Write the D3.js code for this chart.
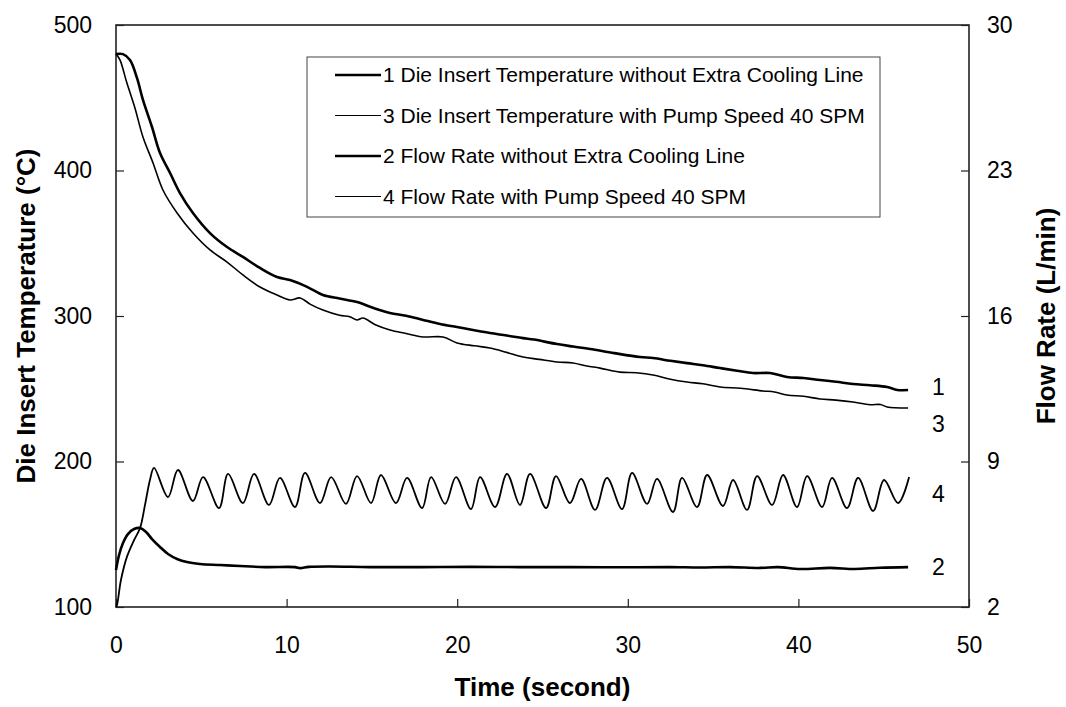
<!DOCTYPE html>
<html lang="en">
<head><meta charset="utf-8">
<title>Die Insert Temperature and Flow Rate</title>
<style>
body { margin: 0; background: #fff; font-family: "Liberation Sans", Arial, sans-serif; }
.axis text { font-size: 23px; fill: #000; }
.axis path { display: none; }
.axis line { stroke: #222; stroke-width: 1.2px; }
.title { font-size: 26px; font-weight: bold; }
.legend text { font-size: 21px; }
</style>
</head>
<body>
<svg></svg>
<script src="https://cdn.jsdelivr.net/npm/d3@7"></script>
<script>

// x axis ticks (s), left axis ticks (°C), right axis ticks (L/min)
var timeTicks = [0, 10, 20, 30, 40, 50];
var tempTicks = [100, 200, 300, 400, 500];
var flowTicks = [2, 9, 16, 23, 30];

// 1 Die Insert Temperature without Extra Cooling Line  [time, °C]
var temp1 = [[0,480],[0.41,480],[0.82,476],[1.23,463.6],[1.58,448.5],[2.11,429.9],[2.58,412],[3.17,398.3],
  [3.75,384.5],[4.51,370.8],[5.51,357],[6.51,347.4],[7.44,340.6],[8.44,333],[9.44,326.8],[10.2,324.7],
  [11.2,320],[12.13,314.4],[13.1,312],[14.13,309.6],[15.1,305.5],[16.06,302.1],[17,300.2],[18,297.3],
  [19,294.5],[19.99,292.4],[21,290.2],[21.92,288.3],[22.9,286.6],[23.86,284.8],[24.5,283.8],[25.85,280.7],
  [26.8,279],[27.79,277.3],[29.2,274.5],[30.72,271.8],[31.48,271.1],[32.5,269.2],[33.47,267.6],[34.4,266.2],
  [35.41,264.2],[36.4,262.4],[37.34,260.8],[38.34,260.8],[39.33,258.1],[40.3,257.4],[41.27,256],
  [42.2,254.8],[43.2,253.3],[44.2,252.4],[45.2,251.2],[45.8,249.2],[46.43,249.1]];

// 3 Die Insert Temperature with Pump Speed 40 SPM  [time, °C]
var temp3 = [[0,480],[0.23,476],[0.64,460.1],[1.11,443],[1.58,423],[2.17,405.2],[2.75,386.6],[3.58,370.8],
  [4.51,357],[5.51,345.4],[6.51,337.1],[7.44,328.2],[8.44,319.9],[9.44,314.4],[10.2,311],[10.79,312.4],
  [11.4,308],[12.13,304.1],[13.1,300.5],[13.7,299.5],[14.13,297.3],[14.48,298.6],[15.2,294],[16.06,290.4],
  [17,288],[18,285.6],[19.17,285.6],[19.99,281.5],[21,279.5],[21.92,278],[22.9,275],[23.86,271.8],
  [24.8,270.2],[25.85,268.4],[26.79,267.7],[27.6,265.6],[28.37,264.2],[29.54,261.4],[30.5,261],[31.48,259.5],
  [32.5,256.5],[33.47,254.6],[34.4,253.4],[35.41,251.2],[36.6,250.3],[37.93,248.5],[38.6,247.8],[39.33,245.7],
  [40.3,244.8],[41.27,243],[42.2,242.2],[43.2,240.9],[44.2,239],[44.8,239.2],[45.2,237.5],[46.43,236.8]];

// 2 Flow Rate without Extra Cooling Line  [time, L/min]
var flow2 = [[0,3.78],[0.18,4.5],[0.41,5.08],[0.7,5.51],[1.06,5.75],[1.41,5.8],[1.76,5.61],[2.11,5.27],
  [2.58,4.89],[3.05,4.55],[3.58,4.31],[4.16,4.16],[4.92,4.07],[6.1,4.02],[7.27,3.97],[8.73,3.92],
  [10.49,3.92],[10.79,3.87],[11.3,3.93],[12.55,3.95],[14.89,3.92],[17.82,3.92],[20.75,3.93],[23.68,3.92],
  [26.61,3.92],[29.54,3.91],[32.47,3.92],[34.23,3.9],[36,3.92],[37.75,3.88],[38.8,3.92],[40.1,3.83],
  [41.85,3.88],[43.32,3.83],[44.79,3.89],[46.43,3.92]];

// 4 Flow Rate with Pump Speed 40 SPM  [time, L/min]
var flow4 = [[0,2],[0.06,2.1],[0.29,3.3],[0.64,4.41],[1.06,5.22],[1.41,5.8],[1.7,6.91],[1.99,8.11],[2.23,8.69],
  [3.05,7.29],[3.63,8.59],[4.51,7.1],[5.1,8.25],[6.04,6.76],[6.57,8.4],[7.44,7],[8.09,8.4],[8.97,6.91],
  [9.61,8.21],[10.49,6.81],[11.08,8.45],[11.96,7],[12.61,8.25],[13.48,6.96],[14.13,8.3],[14.95,7],
  [15.53,8.35],[16.41,7],[17.06,8.21],[17.94,6.76],[18.47,8.25],[19.29,6.96],[19.93,8.25],[20.81,6.71],
  [21.34,8.25],[22.22,6.81],[22.92,8.4],[23.68,6.91],[24.27,8.4],[25.21,6.76],[25.79,8.3],[26.61,7],
  [27.26,8.16],[28.08,6.67],[28.78,8.21],[29.66,6.71],[30.25,8.45],[31.13,6.96],[31.71,8.16],[32.65,6.57],
  [33.18,8.21],[34.06,6.81],[34.65,8.35],[35.58,6.86],[36.17,8.11],[36.99,6.67],[37.58,8.3],[38.46,6.91],
  [39.1,8.35],[39.92,6.81],[40.51,8.3],[41.39,6.81],[41.97,8.21],[42.85,6.76],[43.5,8.21],[44.38,6.62],
  [45.02,8.11],[45.84,7],[46.49,8.25]];

var legendLabels = [
  "1 Die Insert Temperature without Extra Cooling Line",
  "3 Die Insert Temperature with Pump Speed 40 SPM",
  "2 Flow Rate without Extra Cooling Line",
  "4 Flow Rate with Pump Speed 40 SPM"
];

var width = 1066, height = 707;
var margin = {top: 25, right: 97, bottom: 100, left: 116};
var w = width - margin.left - margin.right,
    h = height - margin.top - margin.bottom;

var svg = d3.select("svg").attr("width", width).attr("height", height);
var g = svg.append("g").attr("transform", "translate(" + margin.left + "," + margin.top + ")");

var x = d3.scaleLinear().domain([0, 50]).range([0, w]);
var yT = d3.scaleLinear().domain([100, 500]).range([h, 0]);
var yF = d3.scaleLinear().domain([2, 30]).range([h, 0]);

// axes, ticks pointing inward
g.append("g").attr("class", "axis")
    .call(d3.axisLeft(yT).tickValues(tempTicks).tickSize(-8).tickPadding(24));
g.append("g").attr("class", "axis")
    .attr("transform", "translate(0," + h + ")")
    .call(d3.axisBottom(x).tickValues(timeTicks).tickSize(-8).tickPadding(30));
g.append("g").attr("class", "axis")
    .attr("transform", "translate(" + w + ",0)")
    .call(d3.axisRight(yF).tickValues(flowTicks).tickSize(-8).tickPadding(18));

g.append("rect")
    .attr("width", w).attr("height", h)
    .attr("fill", "none").attr("stroke", "#222").attr("stroke-width", 1.6);

var lineT = d3.line().x(function(d) { return x(d[0]); }).y(function(d) { return yT(d[1]); })
    .curve(d3.curveCatmullRom.alpha(0.5));
var lineF = d3.line().x(function(d) { return x(d[0]); }).y(function(d) { return yF(d[1]); })
    .curve(d3.curveCatmullRom.alpha(0.5));

var series = [
  {data: temp1, line: lineT, sw: 2.6, tag: "1"},
  {data: temp3, line: lineT, sw: 1.6, tag: "3"},
  {data: flow2, line: lineF, sw: 2.6, tag: "2"},
  {data: flow4, line: lineF, sw: 1.8, tag: "4"}
];

g.selectAll(".series").data(series).enter().append("path")
    .attr("class", "series")
    .attr("d", function(d) { return d.line(d.data); })
    .attr("fill", "none").attr("stroke", "#000")
    .attr("stroke-width", function(d) { return d.sw; })
    .attr("stroke-linejoin", "round");

// end labels
var endY = {"1": yT(251.5), "3": yT(226), "2": yF(3.92), "4": yF(7.45)};
g.selectAll(".endlab").data(series).enter().append("text")
    .attr("class", "endlab")
    .attr("x", x(46.5) + 29)
    .attr("y", function(d) { return endY[d.tag]; })
    .attr("dy", "0.35em")
    .attr("text-anchor", "middle")
    .style("font-size", "23px")
    .text(function(d) { return d.tag; });

// legend
var lg = svg.append("g").attr("class", "legend").attr("transform", "translate(307,57)");
lg.append("rect").attr("width", 573).attr("height", 160)
    .attr("fill", "#fff").attr("stroke", "#444").attr("stroke-width", 1);
var widths = [2.4, 1.2, 2.4, 1.2];
var items = lg.selectAll(".item").data(legendLabels).enter().append("g")
    .attr("transform", function(d, i) { return "translate(0," + (18 + i * 40.5) + ")"; });
items.append("line").attr("x1", 28).attr("x2", 74).attr("y1", 0).attr("y2", 0)
    .attr("stroke", "#000").attr("stroke-width", function(d, i) { return widths[i]; });
items.append("text").attr("x", 76).attr("dy", "0.35em").text(function(d) { return d; });

// axis titles
svg.append("text").attr("class", "title")
    .attr("transform", "translate(26," + (margin.top + h / 2) + ") rotate(-90)")
    .attr("text-anchor", "middle").attr("dy", "0.35em")
    .text("Die Insert Temperature (\u00B0C)");
svg.append("text").attr("class", "title")
    .attr("transform", "translate(1046," + (margin.top + h / 2) + ") rotate(-90)")
    .attr("text-anchor", "middle").attr("dy", "0.35em")
    .text("Flow Rate (L/min)");
svg.append("text").attr("class", "title")
    .attr("x", margin.left + w / 2).attr("y", 687)
    .attr("text-anchor", "middle").attr("dy", "0.35em")
    .text("Time (second)");

</script>
</body>
</html>
